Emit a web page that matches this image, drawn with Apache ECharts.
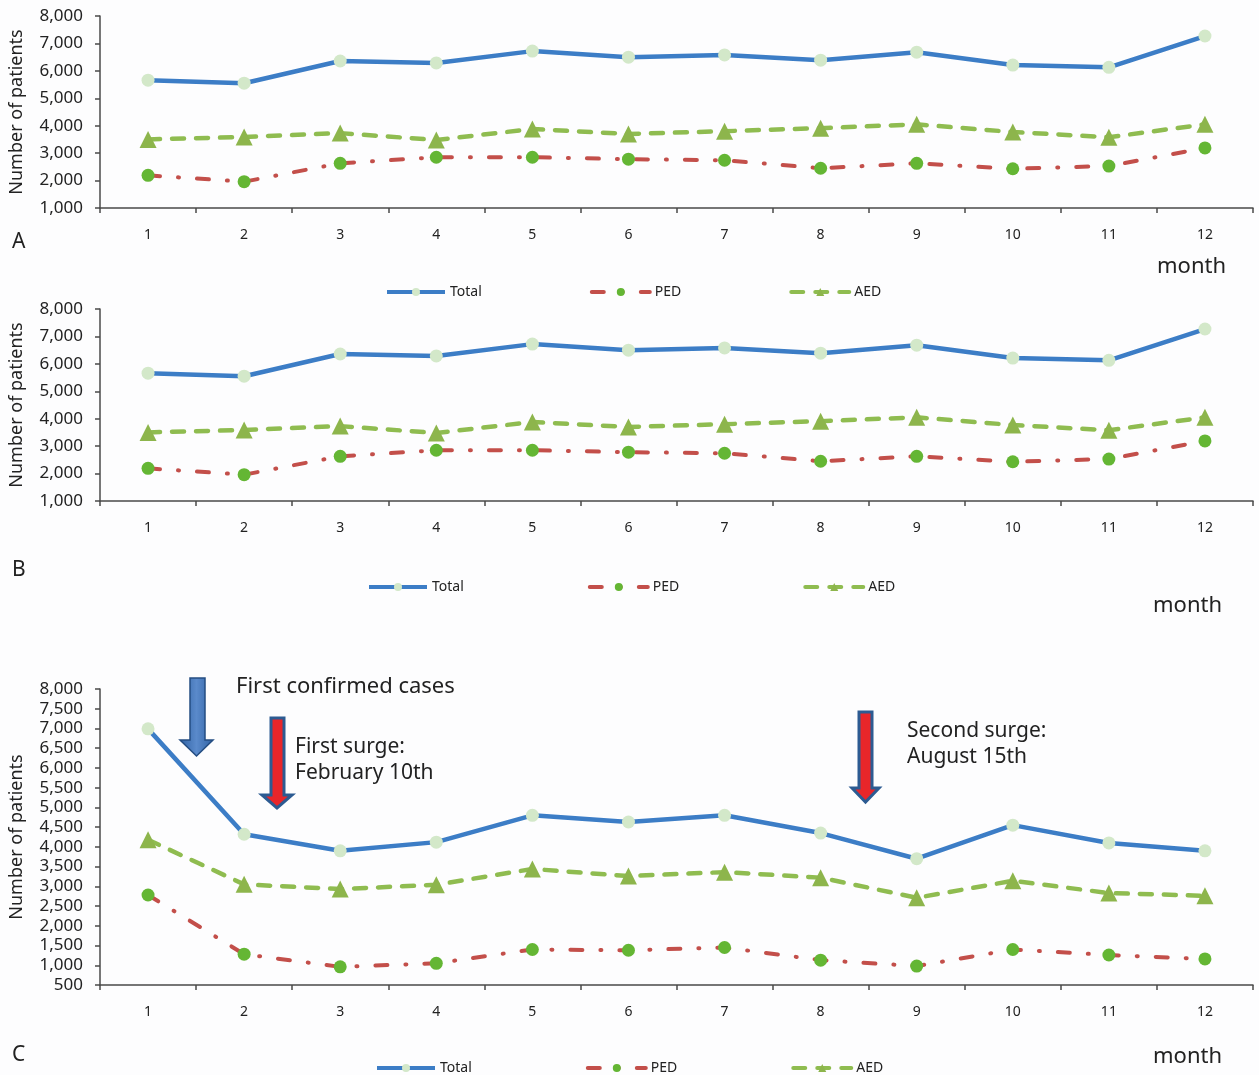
<!DOCTYPE html>
<html>
<head>
<meta charset="utf-8">
<script src="https://cdn.jsdelivr.net/npm/echarts@6/dist/echarts.min.js"></script>
<style>
  html, body { margin: 0; padding: 0; background: #fdfdfe; }
  #chart { width: 1259px; height: 1075px; }
</style>
</head>
<body>
<div id="chart"></div>
<script>
// Months on the category axis
const months = ['1', '2', '3', '4', '5', '6', '7', '8', '9', '10', '11', '12'];

// Panel A: monthly patient counts
const totalA = [5660, 5550, 6360, 6290, 6720, 6500, 6580, 6390, 6680, 6210, 6130, 7270];
const pedA   = [2190, 1960, 2630, 2850, 2850, 2780, 2740, 2450, 2630, 2430, 2530, 3190];
const aedA   = [3500, 3590, 3730, 3480, 3880, 3700, 3800, 3910, 4050, 3770, 3580, 4050];

// Panel B: monthly patient counts
const totalB = [5660, 5550, 6360, 6290, 6720, 6500, 6580, 6390, 6680, 6210, 6130, 7270];
const pedB   = [2190, 1960, 2630, 2850, 2850, 2780, 2740, 2450, 2630, 2430, 2530, 3190];
const aedB   = [3500, 3590, 3730, 3480, 3880, 3700, 3800, 3910, 4050, 3770, 3580, 4050];

// Panel C: monthly patient counts
const totalC = [6990, 4320, 3900, 4120, 4800, 4630, 4800, 4350, 3700, 4550, 4100, 3900];
const pedC   = [2780, 1280, 960, 1050, 1400, 1380, 1450, 1130, 980, 1400, 1260, 1160];
const aedC   = [4180, 3050, 2930, 3040, 3440, 3260, 3360, 3220, 2710, 3140, 2830, 2760];

// Value-axis ranges
const rangeAB = { min: 1000, max: 8000, step: 1000 };
const rangeC  = { min: 500, max: 8000, step: 500 };

const seriesNames = ['Total', 'PED', 'AED'];
const annotations = ['First confirmed cases', 'First surge:\nFebruary 10th', 'Second surge:\nAugust 15th'];

const FONT = 'Noto Sans';
const AXIS_COLOR = '#4a4a4a';
const TEXT_COLOR = '#222222';

const grids = [
  { left: 99, top: 16,  width: 1154, height: 192 },
  { left: 99, top: 309, width: 1154, height: 192 },
  { left: 99, top: 689, width: 1154, height: 296 }
];

function xAxisFor(i) {
  return {
    type: 'category', gridIndex: i, data: months, boundaryGap: true,
    axisLine: { lineStyle: { color: AXIS_COLOR, width: 1.5 } },
    axisTick: { show: true, length: 5, lineStyle: { color: AXIS_COLOR, width: 1.5 } },
    axisLabel: { margin: 20, fontSize: 14, color: TEXT_COLOR, fontFamily: FONT }
  };
}
function yAxisFor(i, r) {
  return {
    type: 'value', gridIndex: i, min: r.min, max: r.max, interval: r.step,
    name: 'Number of patients', nameLocation: 'middle', nameGap: 74,
    nameTextStyle: { fontSize: 18, color: TEXT_COLOR, fontFamily: FONT },
    axisLine: { show: true, lineStyle: { color: AXIS_COLOR, width: 1.5 } },
    axisTick: { show: true, length: 5, lineStyle: { color: AXIS_COLOR, width: 1.5 } },
    splitLine: { show: false },
    axisLabel: {
      margin: 17, fontSize: 17, color: TEXT_COLOR, fontFamily: FONT,
      formatter: v => v.toLocaleString('en-US')
    }
  };
}

const styles = {
  Total: {
    symbol: 'circle', symbolSize: 13,
    itemStyle: { color: '#d3e8c9' },
    lineStyle: { color: '#3c7dc6', width: 4.5, type: 'solid' }
  },
  PED: {
    symbol: 'circle', symbolSize: 13,
    itemStyle: { color: '#64b634' },
    lineStyle: { color: '#c34f4a', width: 4, type: [12, 18, 1, 18], cap: 'round' }
  },
  AED: {
    symbol: 'triangle', symbolSize: 17,
    itemStyle: { color: '#8db54c' },
    lineStyle: { color: '#8fbc50', width: 4.5, type: [12, 12], cap: 'round' }
  }
};

function seriesFor(i, total, ped, aed) {
  const vals = { Total: total, PED: ped, AED: aed };
  return seriesNames.map(n => Object.assign({
    name: n, type: 'line', xAxisIndex: i, yAxisIndex: i,
    data: vals[n], showAllSymbol: true, silent: true, animation: false,
    z: n === 'Total' ? 3 : 2
  }, JSON.parse(JSON.stringify(styles[n]))));
}

function legendFor(i, left, top, gap) {
  return {
    data: seriesNames, left: left, top: top, itemGap: gap,
    itemWidth: 58, itemHeight: 10, selectedMode: false,
    lineStyle: { width: 4 },
    textStyle: { fontSize: 14, color: TEXT_COLOR, fontFamily: FONT }
  };
}

// Block arrow pointing down
function downArrow(x1, x2, yTop, yNeck, hx1, hx2, yTip, fill, stroke, lw) {
  const cx = (hx1 + hx2) / 2;
  return {
    type: 'polygon', z: 10,
    shape: { points: [[x1, yTop], [x2, yTop], [x2, yNeck], [hx2, yNeck], [cx, yTip], [hx1, yNeck], [x1, yNeck]] },
    style: { fill: fill, stroke: stroke, lineWidth: lw, lineJoin: 'miter' }
  };
}
function label(text, x, y, size, extra) {
  return {
    type: 'text', left: x, top: y, z: 10,
    style: Object.assign({ text: text, fontSize: size, fill: TEXT_COLOR, fontFamily: FONT, lineHeight: 26 }, extra || {})
  };
}

const blueGrad = new echarts.graphic.LinearGradient(0, 0, 1, 0, [
  { offset: 0, color: '#2f61a3' }, { offset: 0.5, color: '#5a8acb' }, { offset: 1, color: '#2f61a3' }
]);

const chart = echarts.init(document.getElementById('chart'), null, { renderer: 'canvas' });
chart.setOption({
  backgroundColor: '#fdfdfe',
  animation: false,
  grid: grids,
  xAxis: [xAxisFor(0), xAxisFor(1), xAxisFor(2)],
  yAxis: [yAxisFor(0, rangeAB), yAxisFor(1, rangeAB), yAxisFor(2, rangeC)],
  legend: [legendFor(0, 380, 280, 108), legendFor(1, 362, 575, 124), legendFor(2, 370, 1056, 114)],
  series: [].concat(
    seriesFor(0, totalA, pedA, aedA),
    seriesFor(1, totalB, pedB, aedB),
    seriesFor(2, totalC, pedC, aedC)
  ),
  graphic: [
    label('A', 12, 229, 21),
    label('B', 12, 557, 21),
    label('C', 12, 1042, 21),
    label('month', 1157, 254, 22),
    label('month', 1153, 593, 22),
    label('month', 1153, 1044, 22),
    downArrow(190, 205, 678, 740, 180, 213, 756, blueGrad, '#244d82', 1.5),
    downArrow(271, 284, 718, 795, 262, 292, 808, '#e8262a', '#2c5b92', 3),
    downArrow(859, 872, 712, 788, 852, 879, 802, '#e8262a', '#2c5b92', 3),
    label(annotations[0], 236, 674, 22),
    label(annotations[1], 295, 734, 21),
    label(annotations[2], 907, 718, 21)
  ]
});
</script>
</body>
</html>
